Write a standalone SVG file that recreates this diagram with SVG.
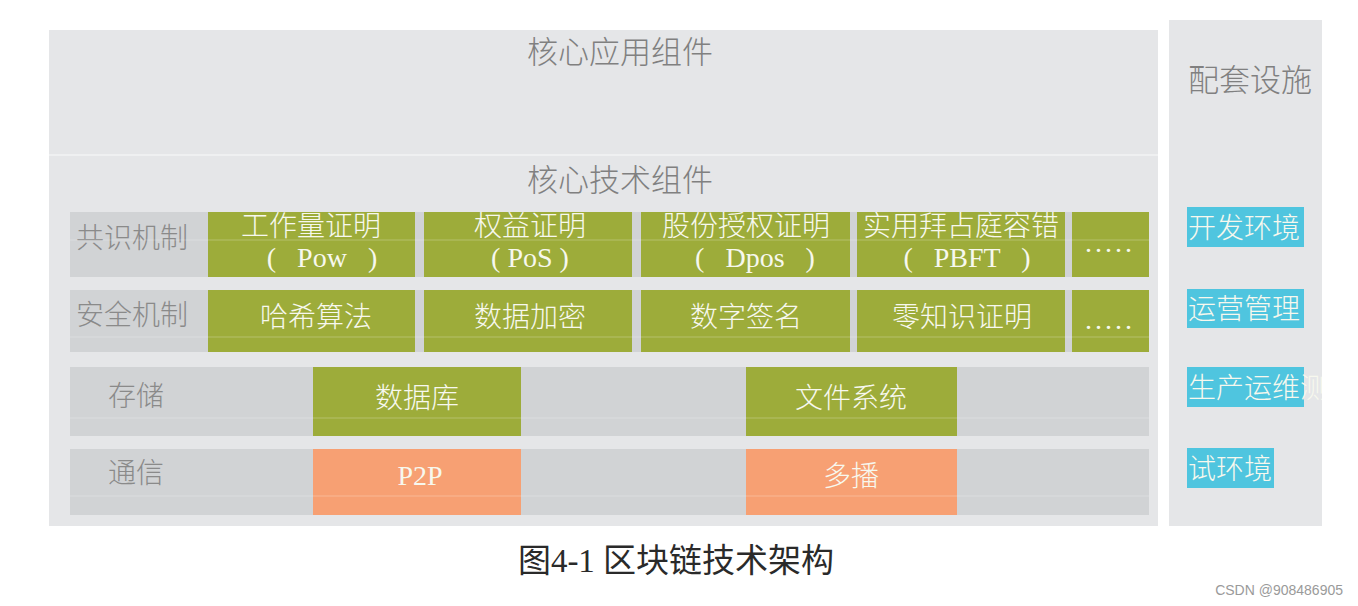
<svg xmlns="http://www.w3.org/2000/svg" width="1358" height="606" viewBox="0 0 1358 606">
<style>
.panel{fill:#e5e6e8}
.row{fill:#d1d3d5}
.green{fill:#9dac3a}
.salmon{fill:#f7a073}
.cyan{fill:#4fc5df}
.cjk{font-family:"Noto Sans CJK SC","Liberation Sans",sans-serif;font-weight:300}
.ser{font-family:"Liberation Serif","Noto Sans CJK SC",serif;white-space:pre}
.title{font-size:31px;fill:#808080}
.lab{font-size:28px;fill:#8a8a8a}
.wt{font-size:28px;fill:#f7f8ee}
.fl{stroke:#ffffff;stroke-opacity:0.25;stroke-width:1}
</style>
<defs>
<clipPath id="rclip"><rect x="1169" y="20" width="153" height="506"/></clipPath>
</defs>
<rect width="1358" height="606" fill="#ffffff"/>

<g id="core-app">
<rect class="panel" x="49" y="30" width="1109" height="125"/>
<text class="cjk title" x="620" y="63" text-anchor="middle">核心应用组件</text>
</g>

<g id="core-tech">
<rect class="panel" x="49" y="155" width="1109" height="371"/>
<line x1="49" y1="155" x2="1158" y2="155" stroke="#f2f3f4" stroke-width="1.5"/>
<text class="cjk title" x="620" y="191" text-anchor="middle">核心技术组件</text>
</g>

<g id="consensus">
<rect class="row" x="70" y="212" width="1079" height="65"/>
<text class="cjk lab" x="76" y="248">共识机制</text>
<rect class="green" x="208" y="212" width="207" height="65"/>
<rect class="green" x="424" y="212" width="208" height="65"/>
<rect class="green" x="641" y="212" width="209" height="65"/>
<rect class="green" x="857" y="212" width="208" height="65"/>
<rect class="green" x="1072" y="212" width="77" height="65"/>
<line class="fl" x1="70" y1="240" x2="1149" y2="240"/>
<text class="cjk wt" x="311" y="236" text-anchor="middle">工作量证明</text>
<text class="ser wt" x="322" y="267" text-anchor="middle">(&#x2002; Pow &#x2002;)</text>
<text class="cjk wt" x="530" y="236" text-anchor="middle">权益证明</text>
<text class="ser wt" x="530" y="267" text-anchor="middle">( PoS )</text>
<text class="cjk wt" x="746" y="236" text-anchor="middle">股份授权证明</text>
<text class="ser wt" x="755" y="267" text-anchor="middle">(&#x2002; Dpos &#x2002;)</text>
<text class="cjk wt" x="961" y="236" text-anchor="middle">实用拜占庭容错</text>
<text class="ser wt" x="967" y="267" text-anchor="middle">(&#x2002; PBFT &#x2002;)</text>
<text class="ser wt" x="1110" y="252" text-anchor="middle" letter-spacing="3">.....</text>
</g>

<g id="security">
<rect class="row" x="70" y="290" width="1079" height="62"/>
<text class="cjk lab" x="76" y="325">安全机制</text>
<rect class="green" x="208" y="290" width="207" height="62"/>
<rect class="green" x="424" y="290" width="208" height="62"/>
<rect class="green" x="641" y="290" width="209" height="62"/>
<rect class="green" x="857" y="290" width="208" height="62"/>
<rect class="green" x="1072" y="290" width="77" height="62"/>
<line class="fl" x1="70" y1="337" x2="1149" y2="337"/>
<text class="cjk wt" x="316" y="327" text-anchor="middle">哈希算法</text>
<text class="cjk wt" x="530" y="327" text-anchor="middle">数据加密</text>
<text class="cjk wt" x="746" y="327" text-anchor="middle">数字签名</text>
<text class="cjk wt" x="962" y="327" text-anchor="middle">零知识证明</text>
<text class="ser wt" x="1110" y="329" text-anchor="middle" letter-spacing="3">.....</text>
</g>

<g id="storage">
<rect class="row" x="70" y="367" width="1079" height="69"/>
<text class="cjk lab" x="108" y="406">存储</text>
<rect class="green" x="313" y="367" width="208" height="69"/>
<rect class="green" x="746" y="367" width="211" height="69"/>
<line class="fl" x1="70" y1="418" x2="1149" y2="418"/>
<text class="cjk wt" x="417" y="408" text-anchor="middle">数据库</text>
<text class="cjk wt" x="851" y="408" text-anchor="middle">文件系统</text>
</g>

<g id="communication">
<rect class="row" x="70" y="449" width="1079" height="66"/>
<text class="cjk lab" x="108" y="483">通信</text>
<rect class="salmon" x="313" y="449" width="208" height="66"/>
<rect class="salmon" x="746" y="449" width="211" height="66"/>
<line class="fl" x1="70" y1="496" x2="1149" y2="496"/>
<text class="ser wt" x="420" y="485" text-anchor="middle">P2P</text>
<text class="cjk wt" x="851" y="486" text-anchor="middle">多播</text>
</g>

<g id="facilities">
<rect class="panel" x="1169" y="20" width="153" height="506"/>
<text class="cjk title" x="1250" y="91" text-anchor="middle">配套设施</text>
<rect class="cyan" x="1187" y="207" width="117" height="40"/>
<text class="cjk wt" x="1188" y="238">开发环境</text>
<rect class="cyan" x="1187" y="289" width="117" height="39"/>
<text class="cjk wt" x="1188" y="319">运营管理</text>
<rect class="cyan" x="1187" y="367" width="117" height="40"/>
<text class="cjk wt" x="1188" y="398" clip-path="url(#rclip)">生产运维测</text>
<rect class="cyan" x="1187" y="448" width="87" height="40"/>
<text class="cjk wt" x="1188" y="479">试环境</text>
</g>

<g id="caption">
<text x="676" y="572" text-anchor="middle" font-family="'Liberation Serif','Noto Sans CJK SC',serif" font-size="33" fill="#2a2a2a">图4-1 区块链技术架构</text>
</g>

<g id="watermark">
<text x="1343" y="595" text-anchor="end" font-family="'Liberation Sans',sans-serif" font-size="14" fill="#9a9a9a">CSDN @908486905</text>
</g>
</svg>
